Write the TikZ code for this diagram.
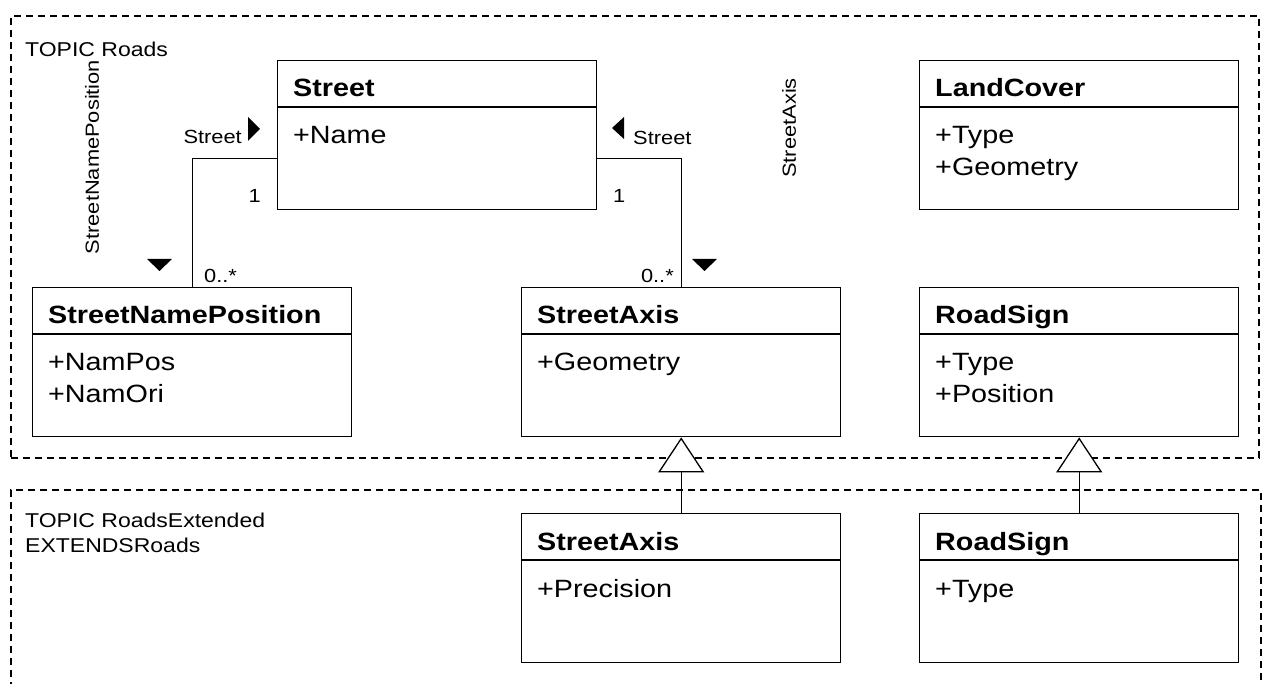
\documentclass[tikz,border=0pt]{standalone}
\usepackage{fontspec}
\setmainfont{Liberation Sans}[FakeStretch=1.15]
\usetikzlibrary{arrows.meta,positioning}

\begin{document}
\begin{tikzpicture}[x=1pt, y=-1pt,
    classbox/.style={draw, line width=1.4pt, anchor=north west, minimum width=319pt, minimum height=149pt, inner sep=0pt},
    classname/.style={anchor=base west, inner sep=0pt, font=\fontsize{25}{30}\selectfont\bfseries},
    attr/.style={anchor=base west, inner sep=0pt, font=\fontsize{25}{30}\selectfont},
    lbl/.style={inner sep=0pt, font=\fontsize{19}{23}\selectfont},
    topic/.style={anchor=base west, inner sep=0pt, font=\fontsize{20}{24}\selectfont},
    frame/.style={draw, line width=1.6pt, dash pattern=on 7pt off 5pt, anchor=north west, inner sep=0pt},
    assoc/.style={line width=1.3pt},
    inherit/.style={line width=1.3pt, -{Triangle[fill=white, length=35pt, width=46pt]}}]
    \clip (0,0) rectangle (1264,684);

    % Topic frames
    \node[frame, minimum width=1248pt, minimum height=442pt] (roads) at (10,15) {};
    \node[frame, minimum width=1250pt, minimum height=260pt] (roadsext) at (10,489) {};
    \node[topic] (roadstitle) at (25,57) {TOPIC Roads};
    \node[topic] (exttitle) at (25,527) {TOPIC RoadsExtended};
    \node[topic] (extends) at (25,552) {EXTENDSRoads};

    % Classes
    \foreach \n/\x/\y/\t/\attrs in {street/277/60/Street/{+Name},
        landcover/919/60/LandCover/{+Type,+Geometry},
        namepos/32/287/StreetNamePosition/{+NamPos,+NamOri},
        axis/521/287/StreetAxis/{+Geometry},
        roadsign/919/287/RoadSign/{+Type,+Position},
        axisext/521/513/StreetAxis/{+Precision},
        signext/919/513/RoadSign/{+Type}}
    {
        \node[classbox] (\n) at (\x,\y) {};
        \draw[line width=1.4pt] ([yshift=-47pt]\n.north west) -- ([yshift=-47pt]\n.north east);
        \node[classname] at ([shift={(16,37)}]\n.north west) {\t};
        \foreach \a [count=\i] in \attrs
            \node[attr] at ([shift={(16,{84+32*(\i-1)})}]\n.north west) {\a};
    }

    % Associations
    \draw[assoc] ([yshift=-23.5pt]street.west) -| (namepos.north);
    \draw[assoc] ([yshift=-23.5pt]street.east) -| (axis.north);
    \node[lbl, anchor=base east] (lstreet) at (242,144) {Street};
    \node[lbl, anchor=base west] (rstreet) at (633,145) {Street};
    \node[lbl, anchor=base east] (lone) at (261,203) {1};
    \node[lbl, anchor=base west] (rone) at (613,203) {1};
    \node[lbl, anchor=base west] (lmany) at (204,283) {0..*};
    \node[lbl, anchor=base east] (rmany) at (674,283) {0..*};
    \node[lbl, rotate=90] (snplbl) at (92,157) {StreetNamePosition};
    \node[lbl, rotate=90] (axislbl) at (789,128) {StreetAxis};
    \fill (248,117) -- (260,129) -- (248,141) -- cycle;
    \fill (624,117) -- (612,128) -- (624,139) -- cycle;
    \fill (147,259) -- (172,259) -- (159.5,271) -- cycle;
    \fill (692,259) -- (717,259) -- (704.5,271) -- cycle;

    % Generalisations
    \draw[inherit] (axisext.north) -- (axis.south);
    \draw[inherit] (signext.north) -- (roadsign.south);
\end{tikzpicture}
\end{document}
